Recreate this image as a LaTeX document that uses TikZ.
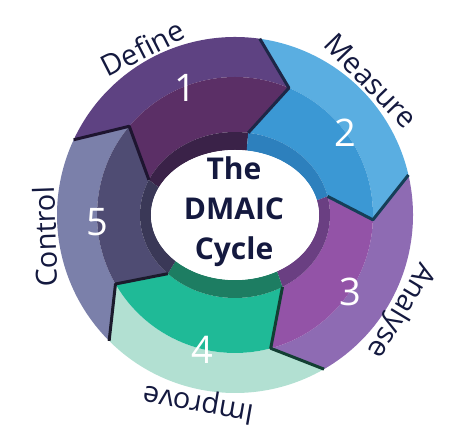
\documentclass[tikz,border=0pt]{standalone}
\usepackage{fontspec}
\setmainfont{Open Sans}
\usetikzlibrary{calc}

\definecolor{defA}{HTML}{5E4282}
\definecolor{defB}{HTML}{5B2F66}
\definecolor{defC}{HTML}{3A2248}
\definecolor{meaA}{HTML}{5AAEE1}
\definecolor{meaB}{HTML}{3B98D4}
\definecolor{meaC}{HTML}{2D80BD}
\definecolor{anaA}{HTML}{8E6BB3}
\definecolor{anaB}{HTML}{9353A7}
\definecolor{anaC}{HTML}{6A3F82}
\definecolor{impA}{HTML}{B2E0D2}
\definecolor{impB}{HTML}{1FBA97}
\definecolor{impC}{HTML}{1D7D62}
\definecolor{conA}{HTML}{7B80AA}
\definecolor{conB}{HTML}{4F4C73}
\definecolor{conC}{HTML}{3A3857}
\definecolor{navy}{HTML}{14193F}

\begin{document}
\begin{tikzpicture}[x=1pt, y=1pt]
\tikzstyle{num}=[text=white, font=\fontsize{38}{38}\selectfont, inner sep=0pt]
\tikzstyle{lbl}=[text=navy, font=\fontsize{29}{29}\selectfont, inner sep=0pt]
\tikzstyle{ctr}=[text=navy, align=center, font=\bfseries\fontsize{30}{40}\selectfont]
\def\Rout{178} \def\Rmid{138}
\def\Rinx{95} \def\Riny{83}
\def\Rwx{84} \def\Rwy{65}
\useasboundingbox (-235,-220) rectangle (239,215);
% arrow segments, clockwise
\foreach \a/\b/\co/\ci/\cr in {155/82/defA/defB/defC, 82/13/meaA/meaB/meaC, 13/-60/anaA/anaB/anaC, -60/-135/impA/impB/impC, 225/155/conA/conB/conC}{
  \fill[\co] (\a:\Rout) arc[start angle=\a, end angle=\b, radius=\Rout] -- ({\b-15}:\Rmid)
     arc[start angle=\b-15, end angle=\a-15, radius=\Rmid] -- cycle;
  \fill[\ci] ({\a-15}:\Rmid) arc[start angle=\a-15, end angle=\b-15, radius=\Rmid] -- ({\Rinx*cos(\b)},{\Riny*sin(\b)})
     arc[start angle=\b, end angle=\a, x radius=\Rinx, y radius=\Riny] -- cycle;
  \fill[\cr] ({\Rinx*cos(\a)},{\Riny*sin(\a)}) arc[start angle=\a, end angle=\b, x radius=\Rinx, y radius=\Riny]
     -- ({\Rwx*cos(\b)},{\Rwy*sin(\b)}) arc[start angle=\b, end angle=\a, x radius=\Rwx, y radius=\Rwy] -- cycle;
}
% shadows at the joints
\foreach \b/\cs in {82/1E2747, 13/153F58, -60/123F33, -135/1B1B2C, 155/1E1530}{
  \definecolor{shd}{HTML}{\cs}
  \draw[shd, line width=3pt, line join=round] (\b:\Rout) -- ({\b-15}:\Rmid) -- ({\Rinx*cos(\b)},{\Riny*sin(\b)});
}
\fill[white] (0,0) ellipse[x radius=\Rwx, y radius=\Rwy];
\node[ctr] (title) at (-1,3) {The\\DMAIC\\Cycle};
\foreach \n/\x/\y in {1/-50/127, 2/110/82, 3/115/-77, 4/-33/-135, 5/-138/-7}{\node[num] (n\n) at (\x,\y) {\n};}
\foreach \t/\ang/\rot in {Define/119/27, Measure/44.6/-46, Analyse/-30/-121, Improve/-101/170, Control/186.6/92}{\node[lbl, rotate=\rot] (\t) at (\ang:191) {\t};}
\end{tikzpicture}
\end{document}
